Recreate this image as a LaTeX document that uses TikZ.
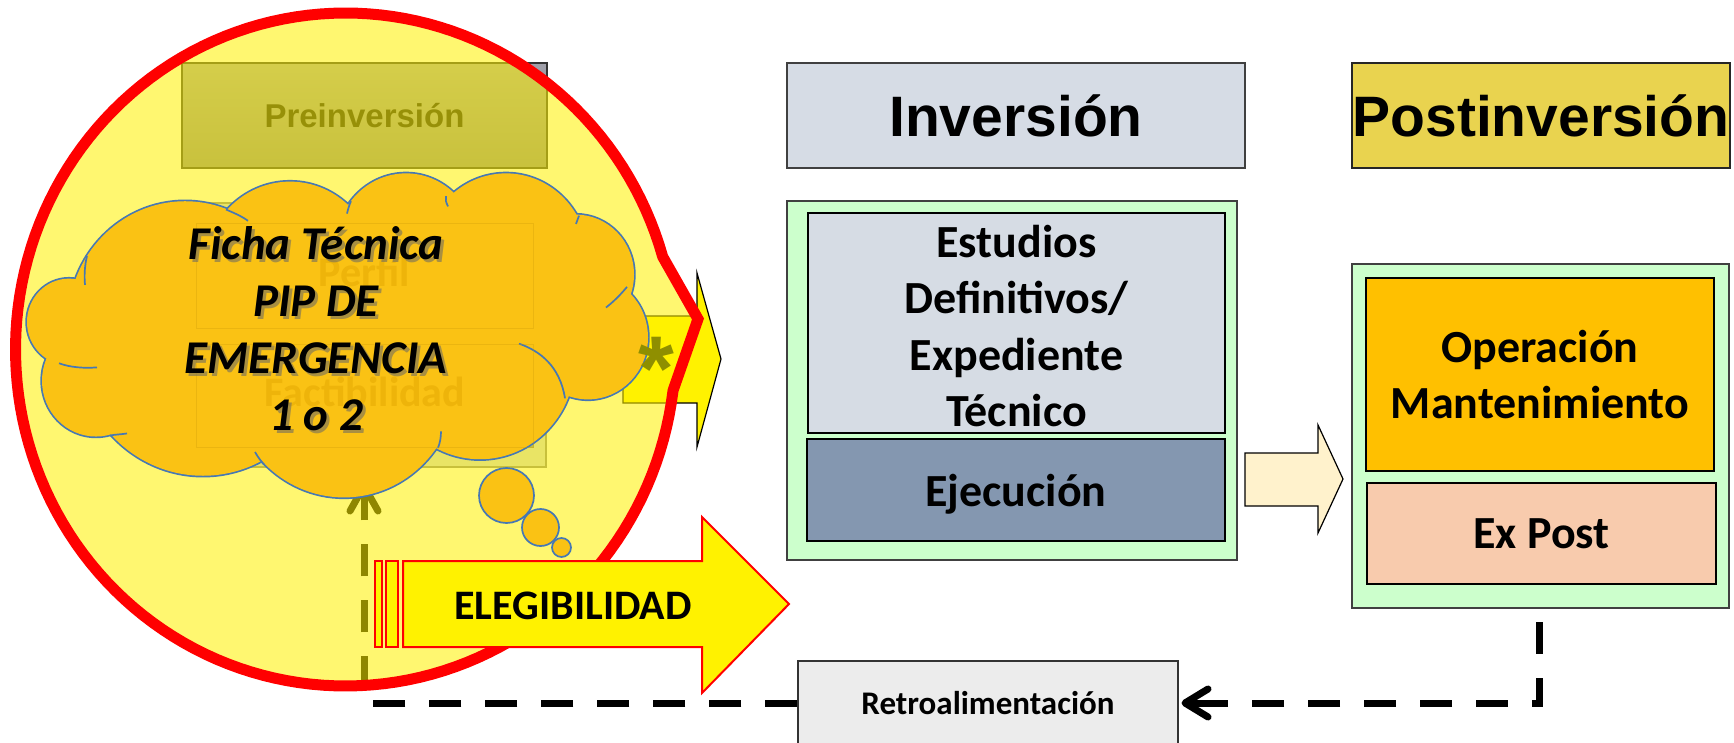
\documentclass[tikz,border=0pt]{standalone}
\usepackage{fontspec}
\setmainfont{Carlito}
\newfontfamily\arialf{Liberation Sans}
\usetikzlibrary{arrows.meta}
\definecolor{preTop}{RGB}{160,160,170}
\definecolor{preBot}{RGB}{132,132,140}
\definecolor{preTxt}{RGB}{20,20,20}
\definecolor{pfFill}{RGB}{205,212,232}
\definecolor{pfLine}{RGB}{130,130,136}
\definecolor{cloudFill}{RGB}{250,194,20}
\definecolor{cloudLine}{RGB}{70,120,180}
\definecolor{faintC}{RGB}{238,180,10}
\definecolor{starOl}{RGB}{143,143,0}
\definecolor{invHead}{RGB}{214,220,229}
\definecolor{postHead}{RGB}{233,211,79}
\definecolor{greenBox}{RGB}{204,255,204}
\definecolor{estFill}{RGB}{214,220,228}
\definecolor{ejeFill}{RGB}{132,151,176}
\definecolor{operFill}{RGB}{255,192,0}
\definecolor{expFill}{RGB}{248,203,173}
\definecolor{retroFill}{RGB}{236,236,236}
\definecolor{creamFill}{RGB}{255,242,204}
\begin{document}
\begin{tikzpicture}[x=0.5pt,y=-0.5pt,
  plainbox/.style={inner sep=0pt, align=center, line width=0.6pt},
  fbline/.style={line width=3.5pt, dash pattern=on 16pt off 12pt},
  chev/.style={line width=3.5pt, line cap=round, line join=round},
  cloudstroke/.style={draw=cloudLine, line width=1.7pt},
  crease/.style={draw=cloudLine, line width=0.85pt},
  calbig/.style={font=\bfseries\fontsize{23}{28.3}\selectfont},
  ariahead/.style={font=\arialf\bfseries\fontsize{28.5}{32}\selectfont},
  redarrow/.style={draw=red, line width=1pt, fill=yellow}
]
\useasboundingbox (0,0) rectangle (1734,743);
\fill[white] (0,0) rectangle (1734,743);

% ---------- Retroalimentacion box (outside circle)
\node[plainbox, draw=black!80, fill=retroFill, minimum width=190pt, minimum height=42pt,
  font=\bfseries\fontsize{16.5}{20}\selectfont] (retro) at (988,703) {Retroalimentación};

% ---------- layer below the yellow callout
\node[plainbox, draw=black!80, top color=preTop, bottom color=preBot, text=preTxt,
  minimum width=182.5pt, minimum height=52.5pt,
  font=\arialf\bfseries\fontsize{16.5}{20}\selectfont] (pre) at (364.5,115.5) {Preinversión};
\node[plainbox, draw=pfLine, fill=pfFill, minimum width=182pt, minimum height=132pt] (pfbox) at (364,335) {};
\node[plainbox, draw=pfLine, fill=pfFill, minimum width=168pt, minimum height=52pt] (perfil) at (365,276) {};
\node[plainbox, draw=pfLine, fill=pfFill, minimum width=168pt, minimum height=51pt] (factib) at (365,396) {};
\draw[draw=black, line width=0.6pt, fill=yellow]
  (623,316) -- (697,316) -- (697,273) -- (721,359) -- (697,447) -- (697,403) -- (623,403) -- cycle;
\coordinate (tipL) at (364,486);
\draw[fbline] (retro.west) -| (tipL);
\draw[chev] (350,511) -- (tipL) -- (378,511);

% ---------- yellow callout circle
\draw[draw=red, line width=5.5pt, line join=miter, fill=yellow, fill opacity=0.56]
  plot[domain=7:344, samples=160] ({345.5+330*cos(\x)},{349.5+336.5*sin(\x)}) -- (698,319) -- cycle;

% ---------- cloud
\begin{scope}[yscale=1.032]
\draw[cloudstroke]
  (69,312) circle[radius=42] (185,312) circle[radius=117] (290,262) circle[radius=86]
  (406,238) circle[radius=70] (506,250) circle[radius=82] (576,266) circle[radius=58]
  (588,327) circle[radius=60] (480,350) circle[radius=95] (344,369) circle[radius=113]
  (203,335) circle[radius=126] (96,369) circle[radius=54];
\fill[cloudFill]
  (69,312) circle[radius=42] (185,312) circle[radius=117] (290,262) circle[radius=86]
  (406,238) circle[radius=70] (506,250) circle[radius=82] (576,266) circle[radius=58]
  (588,327) circle[radius=60] (480,350) circle[radius=95] (344,369) circle[radius=113]
  (203,335) circle[radius=126] (96,369) circle[radius=54];
\draw[crease] (59,352) .. controls (70,356) and (84,357) .. (97,356);
\draw[crease] (110,422) .. controls (115,421) and (121,421) .. (127,420);
\draw[crease] (255,438) .. controls (258,443) and (261,447) .. (264,450);
\draw[crease] (441,418) .. controls (441,424) and (440,429) .. (438,434);
\draw[crease] (519,333) .. controls (540,340) and (560,355) .. (565,386);
\draw[crease] (606,298) .. controls (614,292) and (621,285) .. (627,278);
\draw[crease] (226,203) .. controls (233,206) and (241,209) .. (248,214);
\draw[crease] (85,276) .. controls (84,266) and (85,256) .. (87,248);
\draw[crease] (347,207) .. controls (348,203) and (349,199) .. (351,195);
\draw[crease] (448,200) .. controls (446,196) and (445,193) .. (446,190);
\draw[crease] (579,209) .. controls (578,212) and (577,214) .. (576,217);
\end{scope}
\draw[cloudstroke, line width=0.85pt, fill=cloudFill] (506.5,495.5) circle[radius=27.5];
\draw[cloudstroke, line width=0.85pt, fill=cloudFill] (540.5,527.5) circle[radius=18.5];
\draw[cloudstroke, line width=0.85pt, fill=cloudFill] (561.5,547.5) circle[radius=9.5];

% faint boxes seen through the cloud
\draw[faintC!85!black, line width=0.5pt, draw opacity=0.3] (perfil.north west) rectangle (perfil.south east);
\draw[faintC!85!black, line width=0.5pt, draw opacity=0.3] (factib.north west) rectangle (factib.south east);
\node[text=faintC, font=\bfseries\fontsize{21}{24}\selectfont] (perfilT) at (364,272) {Perfíl};
\node[text=faintC, font=\bfseries\fontsize{21}{24}\selectfont] (factibT) at (365,392) {Factibilidad};

% cloud text with shadow
\node[align=center, text=black!60, opacity=0.55, font=\bfseries\itshape\fontsize{23.5}{28.5}\selectfont] (ftextS) at (319,332)
  {Ficha Técnica\\PIP DE\\EMERGENCIA\\1 o 2};
\node[align=center, text=black, font=\bfseries\itshape\fontsize{23.5}{28.5}\selectfont] (ftext) at (316,329)
  {Ficha Técnica\\PIP DE\\EMERGENCIA\\1 o 2};

\node[anchor=base, text=starOl, inner sep=0pt, font=\arialf\bfseries\fontsize{46}{46}\selectfont] (star) at (656,400) {*};

% ---------- ELEGIBILIDAD arrow
\draw[redarrow] (403,561) -- (702,561) -- (702,517) -- (789,604) -- (702,693) -- (702,647) -- (403,647) -- cycle;
\draw[redarrow] (375,561) rectangle (382,647);
\draw[redarrow] (386,561) rectangle (398,647);
\node[font=\bfseries\fontsize{21}{24}\selectfont] (eleg) at (573,606) {ELEGIBILIDAD};

% ---------- Inversion column
\node[plainbox, draw=black!75, fill=invHead, minimum width=229pt, minimum height=52.5pt, ariahead] (invhead) at (1016,115.5) {Inversión};
\node[plainbox, draw=black!75, fill=greenBox, minimum width=225pt, minimum height=179.5pt] (invbox) at (1012,380.5) {};
\node[plainbox, draw=black, line width=0.8pt, fill=estFill, minimum width=208.5pt, minimum height=110pt, calbig] (est) at (1016.5,323) {};
\node[align=center, inner sep=0pt, calbig] (estT) at (1016.5,326)
  {Estudios\\Definitivos/\\Expediente\\Técnico};
\node[plainbox, draw=black, line width=0.8pt, fill=ejeFill, minimum width=209pt, minimum height=51pt, calbig, text depth=0pt] (ejec) at (1016,490) {Ejecución};

% block arrow between columns
\draw[draw=black, line width=0.6pt, fill=creamFill]
  (1245,453) -- (1318,453) -- (1318,425) -- (1343,479) -- (1318,533) -- (1318,506) -- (1245,506) -- cycle;

% ---------- Postinversion column
\node[plainbox, draw=black!85, fill=postHead, minimum width=189pt, minimum height=52.5pt, ariahead] (posthead) at (1541,115.5) {Postinversión};
\node[plainbox, draw=black!75, fill=greenBox, minimum width=188.5pt, minimum height=172pt] (postbox) at (1540.5,436) {};
\node[plainbox, draw=black, line width=0.8pt, fill=operFill, minimum width=174pt, minimum height=96.5pt, calbig] (oper) at (1540,374.5)
  {Operación\\Mantenimiento};
\node[plainbox, draw=black, line width=0.8pt, fill=expFill, minimum width=174.5pt, minimum height=50.5pt, calbig] (expost) at (1541.5,533.5) {Ex Post};

% ---------- feedback connector on the right
\coordinate (postdash) at (1539,622);
\draw[fbline] (postdash) |- (retro.east);
\draw[chev] (1208,689) -- (1185,703) -- (1208,717);
\draw[line width=3.5pt] (1185,703) -- (1204,703);
\end{tikzpicture}
\end{document}
